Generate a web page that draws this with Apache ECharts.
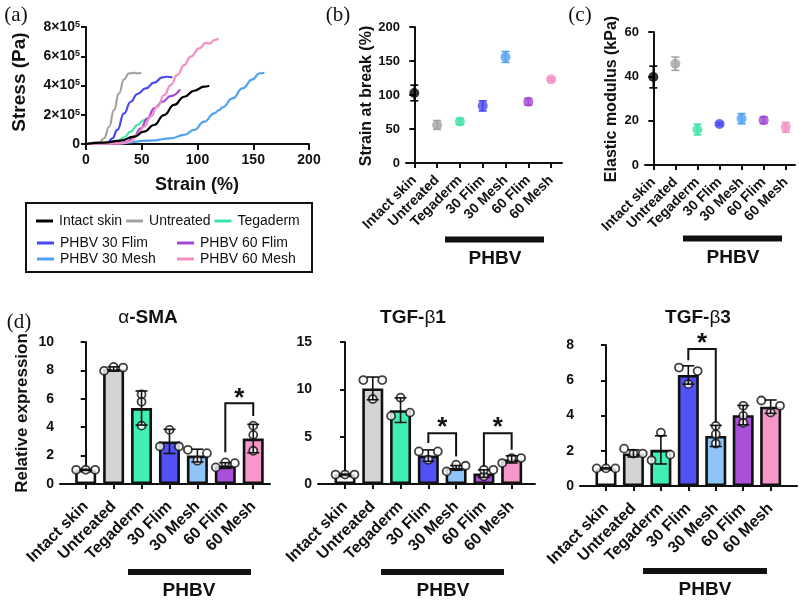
<!DOCTYPE html>
<html>
<head>
<meta charset="utf-8">
<script src="https://cdn.jsdelivr.net/npm/echarts@6/dist/echarts.min.js"></script>
<style>
  html, body { margin: 0; padding: 0; background: #fff; }
  #fig { width: 799px; height: 601px; }
</style>
</head>
<body>
<div id="fig"></div>
<script>
// ---- data ----
var groups = ['Intact skin', 'Untreated', 'Tegaderm', '30 Flim', '30 Mesh', '60 Flim', '60 Mesh'];
var curveNames = ['Intact skin', 'Untreated', 'Tegaderm', 'PHBV 30 Flim', 'PHBV 30 Mesh', 'PHBV 60 Flim', 'PHBV 60 Mesh'];

// (a) stress-strain, stress in units of 10^5 Pa
var curveIntact = [[0,0],[16,0.09],[31,0.23],[43,0.5],[52,0.84],[61,1.3],[70,1.98],[79,2.67],[88,3.23],[97,3.64],[106,3.92],[110.5,3.99]];
var curveUntreated = [[0,0],[11.7,0.09],[16.2,0.39],[20.7,1.18],[25.1,2.32],[29.6,3.46],[34.1,4.42],[38.6,4.83],[43.1,4.87],[46.1,4.83],[49.7,4.87]];
var curveTegaderm = [[0,0],[20,0.03],[28.1,0.16],[34.1,0.46],[40.1,0.84],[46.1,1.3],[52.1,1.64],[56,1.75]];
var curve30Flim = [[0,0],[15,0.02],[19.2,0.09],[23.7,0.39],[28.1,0.96],[34.1,2.1],[40.1,2.89],[46.1,3.42],[53.6,3.8],[61.1,4.19],[68.6,4.56],[73.1,4.6],[77.5,4.56]];
var curve30Mesh = [[0,0],[28.1,0.05],[58.1,0.23],[76,0.39],[88,0.62],[97,0.96],[106,1.53],[115,2.1],[119.5,2.32],[122.5,2.51],[131.4,3.12],[140.4,3.8],[149.4,4.42],[155.4,4.83],[160,4.87]];
var curve60Flim = [[0,0],[30,0.04],[37.1,0.16],[43.1,0.5],[49.1,1.07],[55.1,1.75],[61.1,2.44],[68.6,2.89],[76,3.28],[84.4,3.74]];
var curve60Mesh = [[0,0],[32,0.04],[40.1,0.16],[46.1,0.62],[52.1,1.18],[58.1,1.87],[64.1,2.55],[70.1,3.35],[76,4.03],[82,4.72],[88,5.4],[94,5.97],[101.5,6.54],[107.5,6.92],[111.4,6.88],[115,7.1],[118.9,7.22]];
var curves = [curveIntact, curveUntreated, curveTegaderm, curve30Flim, curve30Mesh, curve60Flim, curve60Mesh];

// (b) strain at break (%)
var breakMean = [103, 56, 61, 84, 156, 90, 123];
var breakSd = [11.5, 6.5, 4.5, 7.5, 8, 5, 2];

// (c) elastic modulus (kPa)
var modMean = [39.7, 45.7, 16, 18.5, 20.9, 20.2, 17];
var modSd = [4.9, 3, 2.4, 0.6, 2.3, 1.5, 2.2];

// (d) relative expression: means, SDs, replicate points, significance brackets [from, to, leftEnd, top, rightEnd]
var smaMean = [1.0, 8.1, 5.35, 3.0, 2.0, 1.3, 3.2];
var smaSd = [0.03, 0.15, 1.2, 0.85, 0.45, 0.2, 1.0];
var smaPts = [[1,1,1],[7.97,8.25,8.2],[6.31,5.79,4.11],[2.64,3.81,2.64],[2.41,1.64,2.17],[1.17,1.52,1.47],[4.11,3.46,2.34]];
var smaSig = [[5, 6, 2.24, 5.68, 4.79]];

var tgf1Mean = [1.0, 10.1, 7.8, 3.0, 1.7, 1.1, 2.6];
var tgf1Sd = [0.05, 1.2, 1.3, 0.6, 0.25, 0.4, 0.38];
var tgf1Pts = [[1,1,1],[10.98,8.98,10.98],[7.19,9.12,7.54],[3.44,2.56,3.44],[1.33,2.04,1.93],[0.81,1.5,1.5],[2.21,2.74,2.74]];
var tgf1Sig = [[3, 4, 4.32, 5.37, 2.91], [5, 6, 1.86, 5.37, 3.61]];

var tgf3Mean = [1.0, 1.85, 2.05, 6.3, 2.84, 4.02, 4.5];
var tgf3Sd = [0.03, 0.2, 0.8, 0.52, 0.6, 0.55, 0.38];
var tgf3Pts = [[1,1,1],[2.12,1.84,1.84],[1.46,3.03,1.78],[6.72,5.78,6.52],[3.41,2.94,2.41],[4.55,3.98,3.58],[4.85,4.17,4.55]];
var tgf3Sig = [[3, 4, 7.14, 7.77, 3.6]];

// ---- styles ----
var FONT = '"Liberation Sans", Arial, sans-serif';
var SERIF = '"Liberation Serif", "Times New Roman", serif';
var INK = '#111';
var lineColors = ['#000000', '#a3a3a3', '#3fe3a5', '#4848ef', '#4fa1f3', '#a347d4', '#f48fc2'];
var barFills = ['#ffffff', '#d4d4d4', '#3ff0b2', '#5151f6', '#8fc4f8', '#a94fd9', '#f797c9'];
var catTicks = [0, 1, 2, 3, 4, 5, 6];

var chart = echarts.init(document.getElementById('fig'));

var grids = [];
var xAxes = [];
var yAxes = [];
var series = [];

function yAxisOf(gi, max, interval, size, fmt, rich) {
    return {
        type: 'value', gridIndex: gi, min: 0, max: max, interval: interval,
        splitLine: { show: false },
        axisLine: { show: true, lineStyle: { color: INK, width: 2 } },
        axisTick: { show: true, length: 5, lineStyle: { color: INK, width: 2 } },
        axisLabel: { margin: 6, fontSize: size, fontWeight: 'bold', color: INK, fontFamily: FONT, formatter: fmt, rich: rich }
    };
}

function catAxisOf(gi, min, max, size, margin) {
    return {
        type: 'value', gridIndex: gi, min: min, max: max,
        splitLine: { show: false },
        axisLine: { show: true, onZero: false, lineStyle: { color: INK, width: 2 } },
        axisTick: { show: true, length: 5, customValues: catTicks, lineStyle: { color: INK, width: 2 } },
        axisLabel: {
            customValues: catTicks, rotate: 45, margin: margin, fontSize: size, fontWeight: 'bold',
            color: INK, fontFamily: FONT,
            formatter: function (v) { return groups[Math.round(v)]; }
        }
    };
}

function errorSeries(gi, mean, sd, colorFn, cap, z) {
    return {
        type: 'custom', xAxisIndex: gi, yAxisIndex: gi, z: z, silent: true,
        encode: { x: 0, y: 1 },
        data: mean.map(function (m, i) { return [i, m, sd[i]]; }),
        renderItem: function (params, api) {
            var x = api.value(0), m = api.value(1), s = api.value(2);
            var hi = api.coord([x, m + s]);
            var lo = api.coord([x, m - s]);
            var st = { stroke: colorFn(params.dataIndex), lineWidth: 1.6, fill: null };
            return {
                type: 'group', children: [
                    { type: 'line', shape: { x1: hi[0], y1: hi[1], x2: lo[0], y2: lo[1] }, style: st },
                    { type: 'line', shape: { x1: hi[0] - cap / 2, y1: hi[1], x2: hi[0] + cap / 2, y2: hi[1] }, style: st },
                    { type: 'line', shape: { x1: lo[0] - cap / 2, y1: lo[1], x2: lo[0] + cap / 2, y2: lo[1] }, style: st }
                ]
            };
        }
    };
}

// ---- (a) stress-strain curves ----
grids.push({ left: 86, top: 27, width: 223, height: 117 });
xAxes.push({
    type: 'value', gridIndex: 0, min: 0, max: 200, interval: 50,
    splitLine: { show: false },
    axisLine: { show: true, onZero: false, lineStyle: { color: INK, width: 2 } },
    axisTick: { show: true, length: 6, lineStyle: { color: INK, width: 2 } },
    axisLabel: { margin: 9, fontSize: 14, fontWeight: 'bold', color: INK, fontFamily: FONT }
});
yAxes.push(yAxisOf(0, 8, 2, 14, function (v) {
    return v === 0 ? '0' : '{n|' + v + '×10}{s|5}';
}, {
    n: { fontSize: 14, fontWeight: 'bold', color: INK, fontFamily: FONT },
    s: { fontSize: 9, fontWeight: 'bold', color: INK, fontFamily: FONT, verticalAlign: 'top' }
}));
curves.forEach(function (c, i) {
    series.push({
        name: curveNames[i], type: 'line', xAxisIndex: 0, yAxisIndex: 0,
        data: c, showSymbol: false, smooth: true, smoothMonotone: 'x',
        color: lineColors[i], lineStyle: { color: lineColors[i], width: 2.2 }, z: 3 + (i === 0 ? 1 : 0)
    });
});

// ---- (b) and (c) mean +/- SD dot plots ----
function dotPanel(gi, grid, xmin, xmax, max, interval, mean, sd) {
    grids.push(grid);
    xAxes.push(catAxisOf(gi, xmin, xmax, 14, 15));
    yAxes.push(yAxisOf(gi, max, interval, 13));
    series.push(errorSeries(gi, mean, sd, function (i) { return lineColors[i]; }, 8, 2));
    series.push({
        type: 'scatter', xAxisIndex: gi, yAxisIndex: gi, symbolSize: 10, z: 3,
        data: mean.map(function (m, i) { return { value: [i, m], itemStyle: { color: lineColors[i] } }; })
    });
}
dotPanel(1, { left: 406, top: 27, width: 156, height: 136 }, -0.364, 6.478, 200, 50, breakMean, breakSd);
dotPanel(2, { left: 645, top: 32, width: 150, height: 133 }, -0.376, 6.42, 60, 20, modMean, modSd);

// ---- (d) bar charts with replicates ----
function jitter(pts, thr) {
    return pts.map(function (v, j) {
        var crowded = pts.some(function (w, k) { return k !== j && Math.abs(w - v) < thr; });
        return crowded ? (j - 1) * 0.34 : 0;
    });
}

function barPanel(gi, grid, xmin, xmax, max, interval, mean, sd, pts, sig) {
    grids.push(grid);
    xAxes.push(catAxisOf(gi, xmin, xmax, 16, 20));
    yAxes.push(yAxisOf(gi, max, interval, 14));
    series.push({
        type: 'bar', xAxisIndex: gi, yAxisIndex: gi, barWidth: 21, z: 2,
        itemStyle: { borderColor: INK, borderWidth: 2.6 },
        data: mean.map(function (m, i) { return { value: [i, m], itemStyle: { color: barFills[i] } }; })
    });
    var dots = [];
    pts.forEach(function (p, i) {
        var off = jitter(p, 0.045 * max);
        p.forEach(function (v, j) { dots.push([i + off[j], v]); });
    });
    series.push({
        type: 'scatter', xAxisIndex: gi, yAxisIndex: gi, symbolSize: 8, z: 3,
        itemStyle: { color: '#fff', borderColor: INK, borderWidth: 1.8 },
        data: dots
    });
    series.push(errorSeries(gi, mean, sd, function () { return INK; }, 12, 4));
    series.push({
        type: 'custom', xAxisIndex: gi, yAxisIndex: gi, z: 5, silent: true,
        encode: { x: [0, 1], y: [2, 3, 4] },
        data: sig,
        renderItem: function (params, api) {
            var a = api.coord([api.value(0), api.value(2)]);
            var b = api.coord([api.value(0), api.value(3)]);
            var c = api.coord([api.value(1), api.value(3)]);
            var d = api.coord([api.value(1), api.value(4)]);
            return {
                type: 'group', children: [
                    { type: 'polyline', shape: { points: [a, b, c, d] }, style: { stroke: INK, lineWidth: 2, fill: null } },
                    { type: 'text', x: (b[0] + c[0]) / 2, y: b[1] - 5,
                      style: { text: '*', font: 'bold 26px ' + FONT, fill: INK, align: 'center', verticalAlign: 'middle', textAlign: 'center', textVerticalAlign: 'middle' } }
                ]
            };
        }
    });
}
barPanel(3, { left: 60, top: 342, width: 210, height: 142 }, -0.92, 6.6, 10, 2, smaMean, smaSd, smaPts, smaSig);
barPanel(4, { left: 318, top: 342, width: 217, height: 142 }, -0.972, 6.84, 15, 5, tgf1Mean, tgf1Sd, tgf1Pts, tgf1Sig);
barPanel(5, { left: 580, top: 345, width: 217, height: 141 }, -0.947, 6.96, 8, 2, tgf3Mean, tgf3Sd, tgf3Pts, tgf3Sig);

// ---- annotations ----
function label(text, x, y, font, rot) {
    return {
        type: 'text', x: x, y: y, rotation: rot || 0, silent: true,
        style: { text: text, font: font, fill: INK, align: 'center', verticalAlign: 'middle', textAlign: 'center', textVerticalAlign: 'middle' }
    };
}
function greekTitle(pre, greek, post, x, y) {
    return {
        type: 'text', x: x, y: y, silent: true,
        style: {
            text: (pre ? '{b|' + pre + '}' : '') + '{g|' + greek + '}' + '{b|' + post + '}',
            align: 'center', verticalAlign: 'middle', textAlign: 'center', textVerticalAlign: 'middle',
            rich: {
                b: { fontSize: 19, fontWeight: 'bold', fontFamily: FONT, fill: INK, color: INK },
                g: { fontSize: 19, fontFamily: FONT, fill: INK, color: INK }
            }
        }
    };
}
function bar(x, y, w) {
    return { type: 'rect', silent: true, shape: { x: x, y: y, width: w, height: 6 }, style: { fill: INK } };
}
var V = Math.PI / 2;
var graphic = [
    label('(a)', 16, 15, '21px ' + SERIF),
    label('(b)', 338, 15, '21px ' + SERIF),
    label('(c)', 580, 15, '21px ' + SERIF),
    label('(d)', 19, 322, '21px ' + SERIF),
    label('Stress (Pa)', 20, 82, 'bold 19px ' + FONT, V),
    label('Strain (%)', 197, 185, 'bold 18px ' + FONT),
    label('Strain at break (%)', 367, 96, 'bold 16px ' + FONT, V),
    label('Elastic modulus (kPa)', 612, 99, 'bold 16px ' + FONT, V),
    label('Relative expression', 22, 413, 'bold 17px ' + FONT, V),
    { type: 'rect', silent: true, shape: { x: 26, y: 203, width: 286, height: 69 }, style: { fill: null, stroke: INK, lineWidth: 2 } },
    bar(445, 236.5, 99), label('PHBV', 495, 259, 'bold 19px ' + FONT),
    bar(683, 235.5, 99), label('PHBV', 733, 258, 'bold 19px ' + FONT),
    bar(128, 569, 123), label('PHBV', 189, 591, 'bold 19px ' + FONT),
    bar(381, 569, 123), label('PHBV', 443, 591, 'bold 19px ' + FONT),
    bar(643, 568, 124), label('PHBV', 705, 590, 'bold 19px ' + FONT),
    greekTitle('', 'α', '-SMA', 148, 318),
    greekTitle('TGF-', 'β', '1', 413, 318),
    greekTitle('TGF-', 'β', '3', 698, 318)
];

var legendText = { fontSize: 14, color: INK, fontFamily: FONT, padding: [0, 0, 0, 1] };
var option = {
    animation: false,
    backgroundColor: '#fff',
    textStyle: { fontFamily: FONT },
    legend: [
        { data: curveNames.slice(0, 3), left: 31, top: 209, icon: 'rect', itemWidth: 17, itemHeight: 3, itemGap: 4, selectedMode: false, textStyle: legendText },
        { data: [curveNames[3], curveNames[4]], orient: 'vertical', left: 32, top: 231, icon: 'rect', itemWidth: 17, itemHeight: 3, itemGap: 2, selectedMode: false, textStyle: legendText },
        { data: [curveNames[5], curveNames[6]], orient: 'vertical', left: 172, top: 231, icon: 'rect', itemWidth: 17, itemHeight: 3, itemGap: 2, selectedMode: false, textStyle: legendText }
    ],
    grid: grids,
    xAxis: xAxes,
    yAxis: yAxes,
    series: series,
    graphic: graphic
};

chart.setOption(option);
window.addEventListener('resize', function () {
    chart.resize();
});
</script>
</body>
</html>
